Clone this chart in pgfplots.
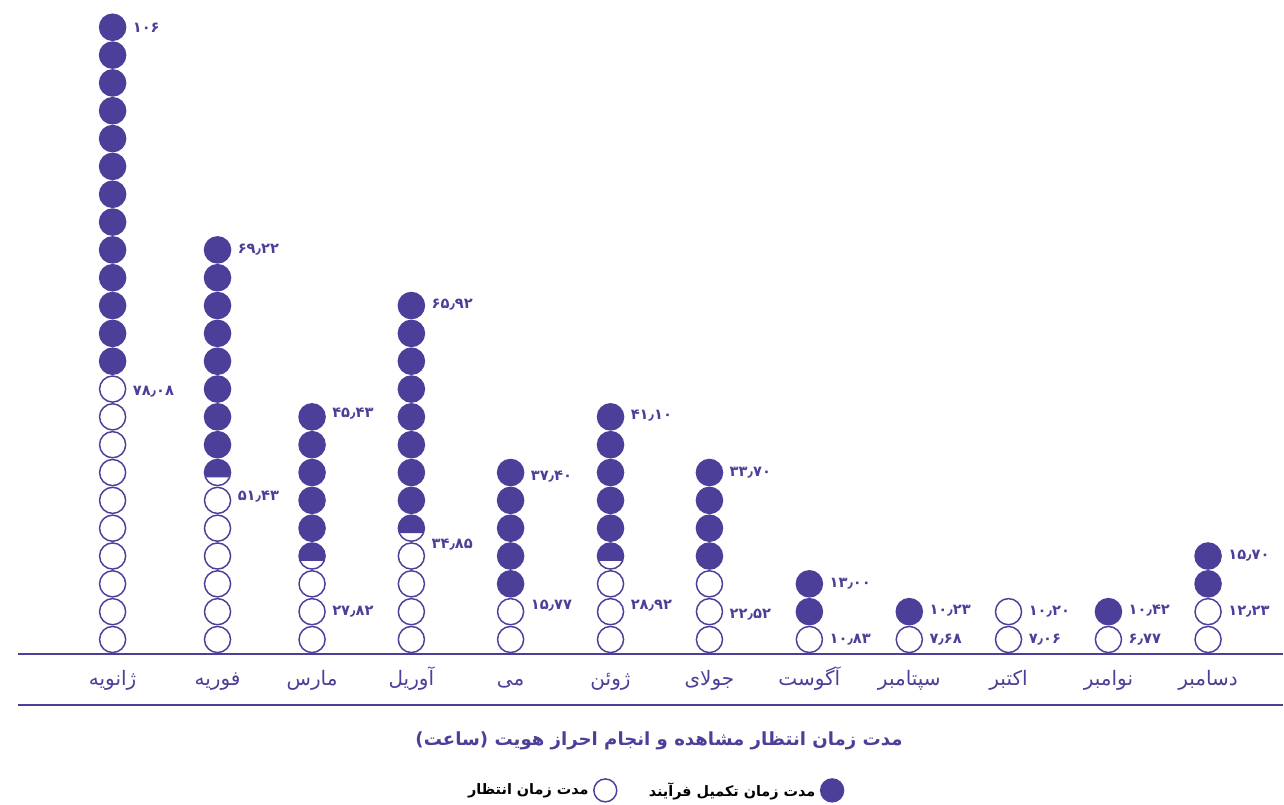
\documentclass[border=0pt]{standalone}
\usepackage{fontspec}
\setmainfont{DejaVu Sans}
\newfontfamily\arabicfont[Script=Arabic]{DejaVu Sans}
\TeXXeTstate=1
\usepackage{pgfplots}
\pgfplotsset{compat=1.18}
\definecolor{pcol}{RGB}{75,63,153}

\pgfdeclareplotmark{partcirc}{%
  \pgfpathcircle{\pgfpointorigin}{\pgfplotmarksize}%
  \pgfsetfillcolor{white}%
  \pgfusepath{fill,stroke}%
  \pgfpathmoveto{\pgfpointpolar{-22}{\pgfplotmarksize}}%
  \pgfpatharc{-22}{202}{\pgfplotmarksize}%
  \pgfpathclose
  \pgfsetfillcolor{pcol}%
  \pgfusepath{fill}%
}

\begin{document}
\begin{tikzpicture}
\begin{axis}[
  scale only axis,
  width=949.5pt, height=491.25pt,
  xmin=18, xmax=1284,
  ymin=-0.5386, ymax=22.98,
  clip=false,
  axis x line*=bottom,
  axis y line=none,
  x axis line style={pcol, line width=1.5pt},
  xtick={112.7,217.7,312.3,411.7,511,611,710,810,910,1009.3,1109.3,1209},
  xticklabels={{\beginR ژانویه\endR},{\beginR فوریه\endR},{\beginR مارس\endR},{\beginR آوریل\endR},{\beginR می\endR},{\beginR ژوئن\endR},{\beginR جولای\endR},{\beginR آگوست\endR},{\beginR سپتامبر\endR},{\beginR اکتبر\endR},{\beginR نوامبر\endR},{\beginR دسامبر\endR}},
  xticklabel style={font=\arabicfont\fontsize{15}{16}\selectfont, text=pcol, anchor=base, yshift=-23pt},
  major tick length=0pt,
  ytick=\empty,
  legend plot pos=right,
  legend columns=2,
  legend style={at={(axis cs:655,-5.422)}, anchor=center, draw=none, fill=none,
    font=\arabicfont\bfseries\fontsize{10.8}{12}\selectfont, text=black,
    /tikz/column 2/.style={column sep=22pt},
    /tikz/column 1/.style={column sep=2pt},
    /tikz/column 3/.style={column sep=2pt}},
  legend image post style={mark size=8.6pt},
]
% open circles: waiting time
\addplot[only marks, mark=*, mark size=9.8pt, mark options={draw=pcol, fill=white, line width=1.1pt}] coordinates {
(112.7,0)(112.7,1)(112.7,2)(112.7,3)(112.7,4)(112.7,5)(112.7,6)(112.7,7)(112.7,8)(112.7,9)
(217.7,0)(217.7,1)(217.7,2)(217.7,3)(217.7,4)(217.7,5)
(312.3,0)(312.3,1)(312.3,2)
(411.7,0)(411.7,1)(411.7,2)(411.7,3)
(511,0)(511,1)
(611,0)(611,1)(611,2)
(710,0)(710,1)(710,2)
(810,0)
(910,0)
(1009.3,0)(1009.3,1)
(1109.3,0)
(1209,0)(1209,1)
};
\addlegendentry{\beginR مدت زمان انتظار\endR}
% filled circles: total process time
\addplot[only marks, mark=*, mark size=9.8pt, mark options={draw=pcol, fill=pcol, line width=1.1pt}] coordinates {
(112.7,10)(112.7,11)(112.7,12)(112.7,13)(112.7,14)(112.7,15)(112.7,16)(112.7,17)(112.7,18)(112.7,19)(112.7,20)(112.7,21)(112.7,22)
(217.7,7)(217.7,8)(217.7,9)(217.7,10)(217.7,11)(217.7,12)(217.7,13)(217.7,14)
(312.3,4)(312.3,5)(312.3,6)(312.3,7)(312.3,8)
(411.7,5)(411.7,6)(411.7,7)(411.7,8)(411.7,9)(411.7,10)(411.7,11)(411.7,12)
(511,2)(511,3)(511,4)(511,5)(511,6)
(611,4)(611,5)(611,6)(611,7)(611,8)
(710,3)(710,4)(710,5)(710,6)
(810,1)(810,2)
(910,1)
(1109.3,1)
(1209,2)(1209,3)
};
\addlegendentry{\beginR مدت زمان تکمیل فرآیند\endR}
% partially filled circles
\addplot[forget plot, only marks, mark=partcirc, mark size=9.8pt, mark options={draw=pcol, line width=1.1pt}] coordinates {
(217.7,6)(312.3,3)(411.7,4)(611,3)
};
% value labels
\addplot[forget plot, only marks, mark=*, mark size=0pt, mark options={draw=none, fill=none},
  nodes near coords, point meta=explicit symbolic,
  nodes near coords style={anchor=west, inner sep=0pt, xshift=15pt, text=pcol,
    font=\arabicfont\bfseries\fontsize{11}{12}\selectfont}]
table[meta=lab] {
x y lab
112.7 22 ۱۰۶
112.7 8.9 ۷۸٫۰۸
217.7 14 ۶۹٫۲۲
217.7 5.13 ۵۱٫۴۳
312.3 8.1 ۴۵٫۴۳
312.3 1 ۲۷٫۸۲
411.7 12.03 ۶۵٫۹۲
411.7 3.4 ۳۴٫۸۵
511 5.85 ۳۷٫۴۰
511 1.2 ۱۵٫۷۷
611 8.05 ۴۱٫۱۰
611 1.2 ۲۸٫۹۲
710 6 ۳۳٫۷۰
710 0.9 ۲۲٫۵۲
810 2 ۱۳٫۰۰
810 0 ۱۰٫۸۳
910 1.02 ۱۰٫۲۳
910 0 ۷٫۶۸
1009.3 1 ۱۰٫۲۰
1009.3 0 ۷٫۰۶
1109.3 1.05 ۱۰٫۴۲
1109.3 0 ۶٫۷۷
1209 3 ۱۵٫۷۰
1209 1 ۱۲٫۲۳
};
\draw[pcol, line width=1.5pt] (axis cs:18,-2.3698) -- (axis cs:1284,-2.3698);
\node[font=\arabicfont\bfseries\fontsize{13.6}{16}\selectfont, text=pcol] at (axis cs:659.5,-3.627)
  {\beginR مدت زمان انتظار مشاهده و  انجام احراز هویت (ساعت)\endR};
\path (axis cs:0,-5.8887) rectangle (axis cs:1284,22.98);
\end{axis}
\end{tikzpicture}
\end{document}
